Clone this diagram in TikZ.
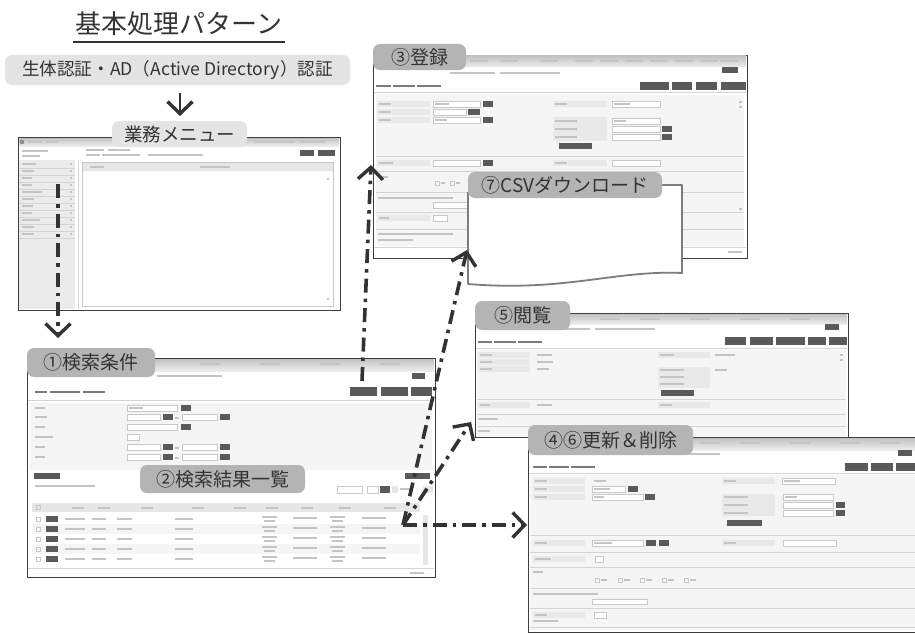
\documentclass[tikz,border=0pt]{standalone}
\usepackage{fontspec}
\setmainfont{Noto Sans CJK JP}
\usetikzlibrary{arrows.meta}
\definecolor{ink}{HTML}{333333}
\definecolor{wline}{HTML}{3C3C3C}
\definecolor{tagc}{HTML}{B4B4B4}
\definecolor{tagl}{HTML}{E4E4E4}
\definecolor{txtc}{HTML}{C4C4C4}
\definecolor{dtxt}{HTML}{7A7A7A}
\definecolor{btnc}{HTML}{5A5A5A}
\definecolor{boxl}{HTML}{C8C8C8}
\definecolor{cellc}{HTML}{E9E9E9}
\definecolor{sepc}{HTML}{D4D4D4}
\definecolor{panelc}{HTML}{F5F5F5}
\definecolor{sidec}{HTML}{EBEBEB}
\definecolor{hdrc}{HTML}{E6E6E6}
\definecolor{paperl}{HTML}{7D7D7D}
\newcommand\Wtx[3]{\fill[txtc] (#1,#2) rectangle ++(#3,2);}
\newcommand\Wdk[3]{\fill[dtxt] (#1,#2) rectangle ++(#3,2.4);}
\newcommand\Wbtn[4]{\fill[btnc] (#1,#2) rectangle ++(#3,#4);}
\newcommand\Wbox[4]{\filldraw[fill=white,draw=boxl,line width=0.5] (#1,#2) rectangle (#3,#4);}
\newcommand\Wcell[4]{\fill[cellc] (#1,#2) rectangle (#3,#4);}
\newcommand\Wsep[3]{\draw[sepc,line width=0.7] (#1,#2) -- (#3,#2);}
\newcommand\Wtitle[4]{\shade[top color=black!24,bottom color=black!7] (#1,#2) rectangle (#3,#4);}
\newcommand\tagfont{\fontsize{19}{22}\selectfont}
\tikzset{
  winframe/.style={draw=wline, line width=1.3, fill=white, inner sep=0pt, anchor=north west},
  tag/.style={rounded corners=7pt, fill=tagc, text=ink, inner sep=0pt, font=\tagfont},
  ltag/.style={tag, fill=tagl},
  chev/.style={-{Straight Barb[length=12pt,width=25pt,line width=3.4pt]}},
  flow/.style={line width=3.6pt, draw=ink, dash pattern=on 14pt off 6pt on 3.5pt off 6pt, chev},
  solidarr/.style={line width=2.8pt, draw=ink, chev},
  paperline/.style={draw=paperl, line width=1.8pt, line join=round}
}
\begin{document}
\begin{tikzpicture}[x=1pt,y=-1pt]
\useasboundingbox (0,0) rectangle (915,634);
\clip (0,0) rectangle (915,634);
\fill[white] (0,0) rectangle (915,634);

% ---------- window 3 : registration ----------
\node[winframe, minimum width=374, minimum height=203] (wreg) at (373,55) {};
\Wtitle{374}{56}{746}{67}
\foreach \x in {470,500,540,575,600,625,650,675,700,720} {\Wtx{\x}{60}{18}}
\Wtx{450}{72}{45}\Wtx{500}{72}{60}
\Wbtn{722}{67}{16}{6}
\Wdk{376}{85}{15}\Wdk{393}{85}{22}\Wdk{417}{85}{24}
\Wbtn{640}{82}{29}{8}\Wbtn{672}{82}{20}{8}\Wbtn{696}{82}{21}{8}\Wbtn{721}{82}{25}{8}
\Wsep{374}{92}{746}
\fill[panelc] (376,95) rectangle (744,246);
\foreach \y in {101,109,117} {\Wcell{377}{\y}{430}{\y+6}\Wtx{379}{\y+2}{12}}
\Wbox{433}{101}{480}{107}\Wtx{435}{103}{14}\Wbtn{483}{101}{10}{6}
\Wbox{433}{109}{466}{115}\Wbtn{468}{109}{12}{6}
\Wbox{433}{117}{480}{123}\Wtx{435}{119}{12}\Wbtn{483}{117}{10}{6}
\Wcell{553}{101}{607}{107}\Wtx{555}{103}{12}
\Wbox{612}{101}{660}{107}\Wtx{614}{103}{16}
\Wcell{553}{117}{607}{141}
\foreach \y in {118,126,134} {\Wtx{555}{\y+2}{22}\Wbox{612}{\y}{660}{\y+6}}
\Wtx{614}{120}{12}
\Wbtn{662}{126}{10}{6}\Wbtn{662}{134}{10}{6}
\Wbtn{559}{143}{33}{6}
\Wsep{376}{156}{744}
\Wcell{377}{160}{430}{166}\Wtx{379}{162}{14}
\Wbox{433}{160}{480}{166}\Wbtn{483}{160}{10}{6}
\Wcell{553}{160}{607}{166}\Wtx{555}{162}{12}\Wbox{612}{160}{660}{166}
\Wsep{376}{171}{744}
\Wtx{378}{176}{10}
\draw[boxl,line width=0.5] (435,181) rectangle ++(4,4);\Wtx{441}{182}{4}
\draw[boxl,line width=0.5] (450,181) rectangle ++(4,4);\Wtx{456}{182}{4}
\Wsep{376}{192}{744}
\Wtx{378}{197}{75}\Wbox{433}{202}{470}{208}
\Wsep{376}{212}{744}
\Wcell{377}{215}{430}{221}\Wtx{379}{217}{10}\Wbox{433}{215}{447}{221}
\Wsep{376}{229}{744}
\Wtx{378}{233}{75}\Wtx{378}{239}{35}
\Wsep{374}{247}{746}
\Wtx{728}{251}{14}
\Wtx{739}{101}{3}\Wtx{739}{106}{3}\Wtx{739}{208}{3}

% ---------- CSV paper ----------
\fill[white] (468,185) -- (682,185) -- (682,273) .. controls (615,270) and (565,292) .. (468,284) -- cycle;
\draw[paperline] (650,185) -- (682,185) -- (682,273) .. controls (615,270) and (565,292) .. (468,284) -- (468,192);
\node[tag, minimum width=194, minimum height=26] (tcsv) at (565,185) {⑦CSVダウンロード};

% ---------- window 5 : view ----------
\node[winframe, minimum width=373, minimum height=124] (wview) at (475,313) {};
\Wtitle{476}{314}{847}{324}
\foreach \x in {600,640,690,740,790} {\Wtx{\x}{318}{20}}
\Wtx{565}{328}{25}\Wtx{595}{328}{60}
\Wbtn{825}{324}{14}{6}
\Wdk{478}{341}{14}\Wdk{494}{341}{22}\Wdk{518}{341}{24}
\Wbtn{725}{337}{21}{8}\Wbtn{750}{337}{23}{8}\Wbtn{776}{337}{29}{8}\Wbtn{808}{337}{18}{8}\Wbtn{829}{337}{18}{8}
\Wsep{476}{348}{847}
\fill[panelc] (477,350) rectangle (846,436);
\foreach \y/\w in {352/15,359/16,366/12} {\Wcell{478}{\y}{530}{\y+6}\Wtx{480}{\y+2}{12}\Wtx{537}{\y+2}{\w}}
\Wcell{658}{352}{710}{358}\Wtx{660}{354}{14}\Wtx{715}{354}{20}
\Wcell{658}{367}{710}{388}
\foreach \y in {369,376,383} {\Wtx{660}{\y}{24}}
\Wtx{715}{369}{12}
\Wbtn{661}{390}{33}{6}
\Wsep{477}{399}{846}
\Wcell{478}{402}{530}{408}\Wtx{480}{404}{10}\Wtx{537}{404}{15}
\Wcell{658}{402}{710}{408}\Wtx{660}{404}{12}
\Wsep{477}{414}{846}
\Wtx{478}{418}{20}
\Wsep{477}{426}{846}
\Wtx{478}{430}{12}
\Wtx{840}{354}{3}\Wtx{840}{359}{3}

% ---------- window 4/6 : edit ----------
\node[winframe, minimum width=400, minimum height=195] (wedit) at (528,437) {};
\Wtitle{529}{438}{927}{450}
\foreach \x in {700,740,790,840,880} {\Wtx{\x}{442}{20}}
\Wtx{600}{453}{45}\Wtx{650}{453}{70}
\Wbtn{898}{450}{14}{6}
\Wdk{533}{466}{14}\Wdk{549}{466}{20}\Wdk{571}{466}{24}
\Wbtn{845}{463}{23}{8}\Wbtn{871}{463}{22}{8}\Wbtn{896}{463}{30}{8}
\Wsep{529}{473}{927}
\fill[panelc] (530,475) rectangle (926,630);
\foreach \y in {478,486,494} {\Wcell{533}{\y}{585}{\y+6}\Wtx{535}{\y+2}{12}}
\Wtx{594}{480}{12}
\Wbox{592}{486}{625}{492}\Wtx{594}{488}{16}\Wbtn{628}{486}{10}{6}
\Wbox{592}{494}{643}{500}\Wtx{594}{496}{10}\Wbtn{645}{494}{10}{6}
\Wcell{722}{478}{775}{484}\Wtx{724}{480}{12}
\Wbox{782}{478}{835}{484}\Wtx{784}{480}{16}
\Wcell{722}{494}{775}{516}
\foreach \y in {494,502,510} {\Wtx{724}{\y+2}{24}\Wbox{783}{\y}{833}{\y+6}}
\Wtx{785}{496}{12}
\Wbtn{836}{502}{9}{6}\Wbtn{836}{510}{9}{6}
\Wbtn{727}{520}{35}{6}
\Wsep{530}{535}{926}
\Wcell{533}{540}{585}{546}\Wtx{535}{542}{12}
\Wbox{592}{540}{643}{546}\Wtx{594}{542}{18}\Wbtn{646}{540}{10}{6}\Wbtn{659}{540}{10}{6}
\Wcell{722}{540}{775}{546}\Wtx{724}{542}{12}\Wbox{783}{540}{836}{546}
\Wsep{530}{552}{926}
\Wcell{533}{556}{585}{562}\Wtx{535}{558}{16}\Wbox{595}{556}{603}{562}
\Wsep{530}{567}{926}
\Wtx{533}{571}{10}
\foreach \x in {595,618,640,662,684} {\draw[boxl,line width=0.5] (\x,578) rectangle ++(4,4);\Wtx{\x+6}{579}{6}}
\Wsep{530}{588}{926}
\Wtx{533}{593}{65}\Wbox{592}{599}{647}{604}
\Wsep{530}{608}{926}
\Wcell{533}{612}{585}{618}\Wtx{535}{614}{12}\Wbox{594}{612}{606}{618}\Wtx{533}{620}{25}
\Wsep{530}{627}{926}

% ---------- menu window ----------
\node[winframe, minimum width=322, minimum height=173] (wmenu) at (18,137) {};
\Wtitle{19}{138}{339}{146}
\fill[black!45] (22,142) circle (2.3);
\Wtx{28}{141}{14}\Wtx{46}{141}{12}\Wtx{200}{141}{30}\Wtx{255}{141}{40}\Wtx{300}{141}{25}
\Wtx{22}{150}{26}\Wtx{22}{155}{18}
\Wtx{86}{149}{18}\Wtx{108}{149}{22}
\Wtx{86}{154}{14}\Wtx{102}{154}{38}\Wtx{148}{154}{55}
\Wbtn{300}{150}{14}{6}\Wbtn{318}{150}{17}{6}
\fill[sidec] (19,160) rectangle (75,309);
\draw[sepc,line width=0.7] (78,160) -- (78,309);
\foreach \i/\w in {0/14,1/12,2/10,3/10,4/20,5/12,6/11,7/10,8/18,9/12,10/12}
  {\Wtx{22}{163+7*\i}{\w}\Wtx{70}{163+7*\i}{2}\draw[sepc,line width=0.5] (19,168+7*\i) -- (75,168+7*\i);}
\draw[boxl,line width=0.6] (82,162) rectangle (333,306);
\fill[hdrc] (82.5,162.5) rectangle (332.5,171);
\Wtx{90}{166}{14}\Wtx{200}{166}{30}
\Wtx{327}{178}{2}\Wtx{327}{298}{2}

% ---------- window 1 : search ----------
\node[winframe, minimum width=408, minimum height=219] (wsearch) at (27,358) {};
\Wtitle{28}{359}{434}{371}
\foreach \x in {200,260,320,380} {\Wtx{\x}{363}{20}}
\Wtx{157}{375}{65}
\Wbtn{412}{373}{13}{6}
\Wdk{35}{391}{12}\Wdk{50}{391}{30}\Wdk{83}{391}{22}
\Wbtn{350}{387}{27}{9}\Wbtn{381}{387}{27}{9}\Wbtn{411}{387}{21}{9}
\Wsep{28}{400}{434}
\fill[panelc] (30,403) rectangle (432,470);
\foreach \y/\w in {405/10,414/12,424/10,434/18,444/10,454/10} {\Wtx{35}{\y+2}{\w}}
\Wbox{127}{405}{177}{411}\Wtx{129}{407}{14}\Wbtn{181}{405}{10}{6}
\foreach \y in {414,444,454} {\Wbox{127}{\y}{160}{\y+6}\Wbtn{163}{\y}{10}{6}\Wtx{175}{\y+2.5}{4}\Wbox{182}{\y}{217}{\y+6}\Wbtn{220}{\y}{10}{6}}
\Wbox{127}{424}{177}{430}\Wbtn{181}{424}{10}{6}
\Wbox{127}{434}{139}{440}
\Wbtn{34}{473}{26}{6}
\Wtx{35}{485}{60}
\Wbtn{405}{473}{25}{6}
\Wbox{337}{486}{362}{493}\Wbox{367}{486}{378}{493}\Wbtn{380}{486}{10}{7}
\fill[hdrc] (392,486) rectangle (398,493);\Wtx{400}{488}{12}\fill[hdrc] (423,486) rectangle (433,493);
\fill[hdrc] (32,503) rectangle (420,512);
\draw[boxl,line width=0.5] (36,505.5) rectangle ++(4,4);
\foreach \x in {72,98,141,192,234,266,301,339,384} {\Wtx{\x}{507}{12}}
\fill[panelc] (32,524) rectangle (420,534);
\fill[panelc] (32,544) rectangle (420,554);
\foreach \y in {514,524,534,544,554} {
  \draw[boxl,line width=0.5] (36,\y+3) rectangle ++(4,4);
  \Wbtn{46}{\y+2}{12}{6}
  \Wtx{65}{\y+4}{20}\Wtx{92}{\y+4}{14}\Wtx{117}{\y+4}{15}\Wtx{175}{\y+4}{18}
  \Wtx{262}{\y+2}{15}\Wtx{264}{\y+5.5}{11}\Wtx{293}{\y+3}{24}
  \Wtx{330}{\y+2}{15}\Wtx{332}{\y+5.5}{11}\Wtx{362}{\y+3}{24}
}
\fill[hdrc] (423,515) rectangle (428,565);
\Wsep{28}{568}{434}
\Wtx{410}{572}{14}

% ---------- title and labels ----------
\node[text=ink, font=\fontsize{26}{30}\selectfont, inner sep=0pt] (ttl) at (179,24) {基本処理パターン};
\draw[ink, line width=1.3pt] (73,42) -- (285,42);
\node[ltag, minimum width=345, minimum height=30, font=\fontsize{17.6}{20}\selectfont] (auth) at (177.5,70) {生体認証・AD（Active Directory）認証};
\node[ltag, minimum width=135, minimum height=26, font=\fontsize{18.5}{22}\selectfont] (tmenu) at (179.5,134) {業務メニュー};
\node[tag, minimum width=128, minimum height=29] (t1) at (91,362.5) {①検索条件};
\node[tag, minimum width=165, minimum height=28] (t2) at (222.5,479) {②検索結果一覧};
\node[tag, minimum width=93, minimum height=26] (t3) at (419.5,57) {③登録};
\node[tag, minimum width=95, minimum height=29] (t5) at (522.5,315.5) {⑤閲覧};
\node[tag, minimum width=165, minimum height=30] (t46) at (610.5,440) {④⑥更新＆削除};

% ---------- connectors ----------
\coordinate (a0s) at (180,93);
\coordinate (a0e) at (180,116);
\coordinate (a1s) at (58,184);
\coordinate (a1e) at (58,338);
\coordinate (a2s) at (362,381);
\coordinate (a2e) at (371,165);
\coordinate (hub) at (403,525);
\coordinate (a3e) at (467,250);
\coordinate (a4e) at (471,422);
\coordinate (a5e) at (527,525);
\draw[solidarr] (a0s) -- (a0e);
\draw[flow] (a1s) -- (a1e);
\draw[flow] (a2s) -- (a2e);
\draw[flow] (hub) -- (a3e);
\draw[flow] (hub) -- (a4e);
\draw[flow] (hub) -- (a5e);
\end{tikzpicture}
\end{document}
